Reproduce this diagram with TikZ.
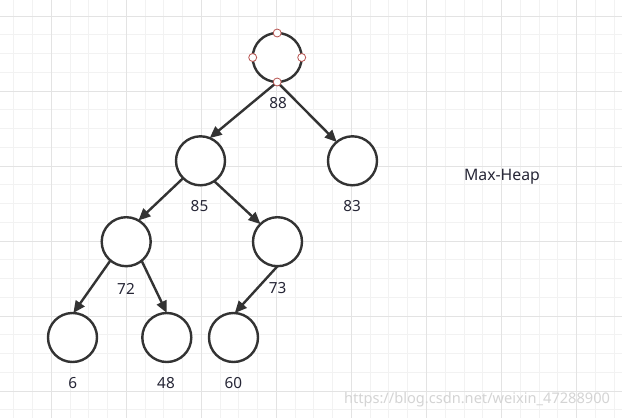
\documentclass[tikz,border=0pt]{standalone}
\usepackage{fontspec}
\setmainfont{Noto Sans}
\usetikzlibrary{arrows.meta}
\definecolor{gridminor}{HTML}{F2F2F2}
\definecolor{gridmajor}{HTML}{E3E3E3}
\definecolor{ink}{HTML}{333333}
\definecolor{txt}{HTML}{262636}
\definecolor{handle}{HTML}{B85450}
\definecolor{wmark}{HTML}{D4D4D4}
\tikzset{
  heapnode/.style={circle,draw=ink,line width=2.4pt,minimum size=49pt,inner sep=0pt,outer sep=0pt,fill=white},
  lbl/.style={text=txt,font=\fontsize{15.3}{18}\selectfont,inner sep=0pt},
  edge/.style={draw=ink,line width=2.4pt,-{Triangle[length=12pt,width=10.5pt]}},
  handlept/.style={circle,draw=handle,fill=white,line width=0.8pt,minimum size=8pt,inner sep=0pt},
}
\begin{document}
\begin{tikzpicture}[x=1pt,y=-1pt]
\useasboundingbox (0,0) rectangle (622,418);
\fill[white] (0,0) rectangle (622,418);
% grid
\foreach \k in {-3,...,31} {
  \pgfmathsetmacro{\xx}{51.3+\k*18.76}
  \draw[gridminor,line width=1pt] (\xx,0) -- (\xx,418);
}
\foreach \k in {-1,...,22} {
  \pgfmathsetmacro{\yy}{16+\k*18.76}
  \draw[gridminor,line width=1pt] (0,\yy) -- (622,\yy);
}
\foreach \k in {-1,...,7} {
  \pgfmathsetmacro{\xx}{51.3+\k*75.04}
  \draw[gridmajor,line width=1pt] (\xx,0) -- (\xx,418);
}
\foreach \k in {0,...,5} {
  \pgfmathsetmacro{\yy}{16+\k*75.04}
  \draw[gridmajor,line width=1pt] (0,\yy) -- (622,\yy);
}
% watermark
\node[text=wmark,font=\fontsize{14.6}{17}\selectfont,inner sep=0pt] (wm) at (477,400) {https://blog.csdn.net/weixin\_47288900};
% nodes
\node[heapnode] (n88) at (277.2,57.5) {};
\node[heapnode] (n85) at (200.5,160.8) {};
\node[heapnode] (n83) at (352.5,160.8) {};
\node[heapnode] (n72) at (126.2,241.7) {};
\node[heapnode] (n73) at (277.5,241.7) {};
\node[heapnode] (n6) at (72.5,337.5) {};
\node[heapnode] (n48) at (166.8,337.5) {};
\node[heapnode] (n60) at (233.5,337.5) {};
% labels
\node[lbl] (l88) at (278,103.5) {88};
\node[lbl] (l85) at (199.5,206.5) {85};
\node[lbl] (l83) at (352,206.5) {83};
\node[lbl] (l72) at (126,288.5) {72};
\node[lbl] (l73) at (277.7,288.5) {73};
\node[lbl] (l6) at (72.7,383.5) {6};
\node[lbl] (l48) at (166,383.5) {48};
\node[lbl] (l60) at (233.3,383.5) {60};
\node[lbl,font=\fontsize{15.8}{18}\selectfont] (title) at (502,177) {Max-Heap};
% edges
\draw[edge] (n88.south) -- (n85.68);
\draw[edge] (n88.south) -- (n83.130);
\draw[edge] (n85.225) -- (n72.60);
\draw[edge] (n85.304) -- (n73.134);
\draw[edge] (n72.230) -- (n6.88);
\draw[edge] (n72.309) -- (n48.90);
\draw[edge] (n73.270) -- (n60.87);
% selection handles on root
\node[handlept] (hn) at (n88.north) {};
\node[handlept] (hw) at (n88.west) {};
\node[handlept] (he) at (n88.east) {};
\node[handlept] (hs) at (n88.south) {};
\end{tikzpicture}
\end{document}
